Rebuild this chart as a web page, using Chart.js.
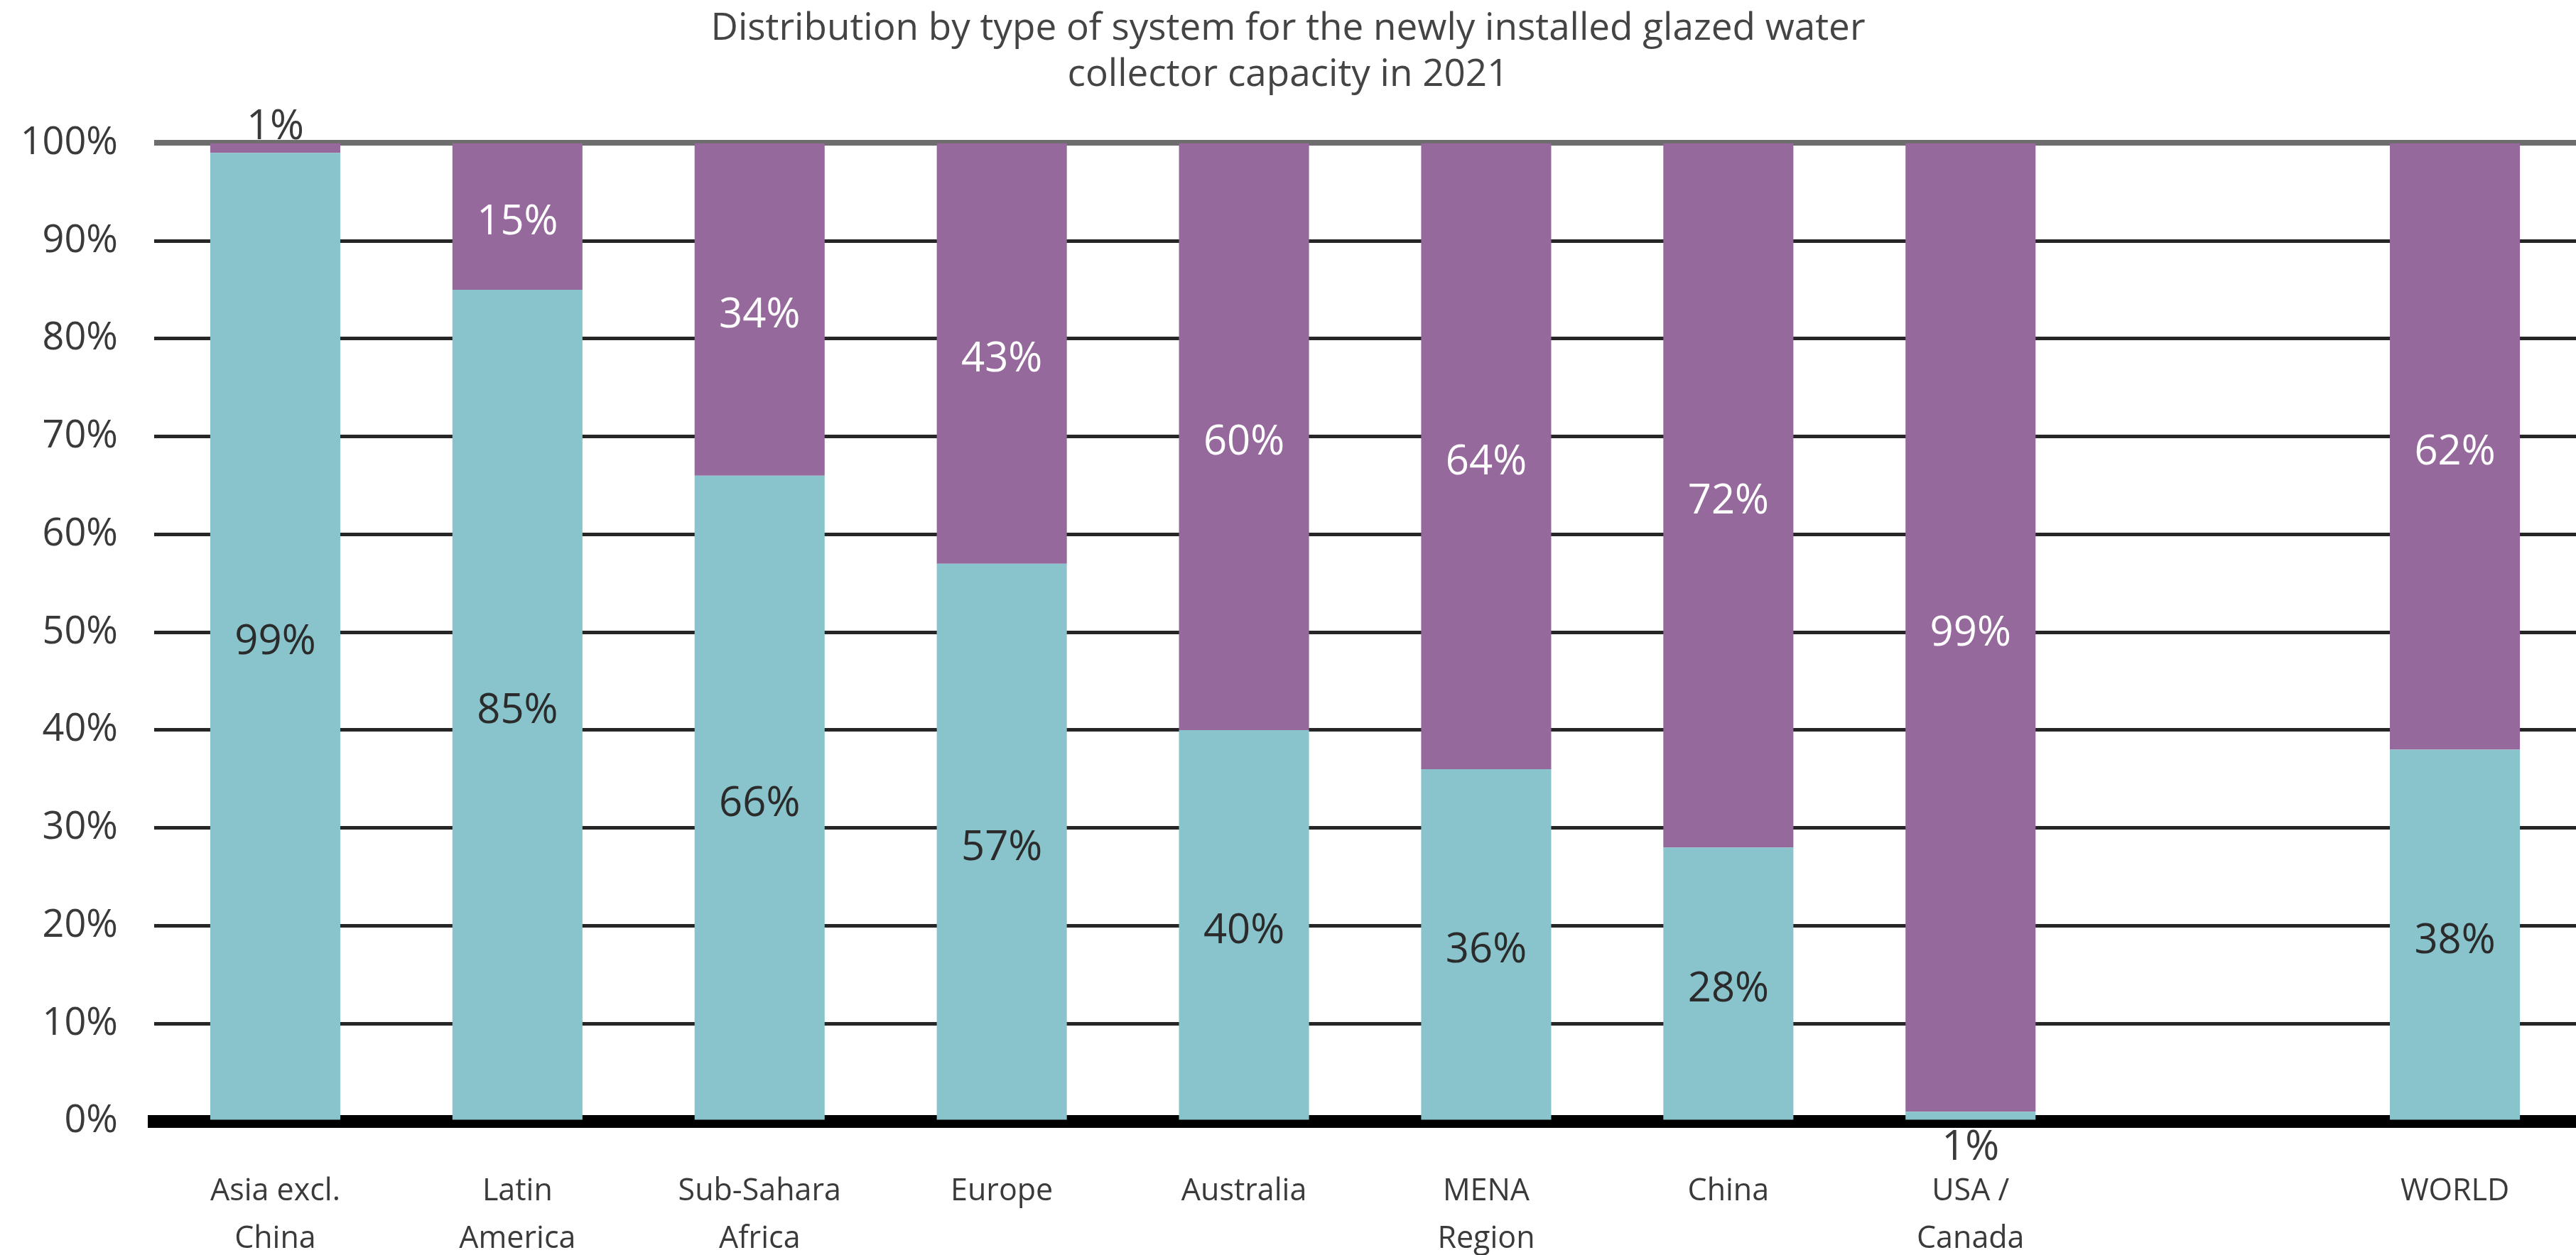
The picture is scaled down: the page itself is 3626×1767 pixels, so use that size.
<!DOCTYPE html>
<html>
<head>
<meta charset="utf-8">
<script src="https://cdn.jsdelivr.net/npm/chart.js@4.4.1/dist/chart.umd.min.js"></script>
<style>
  html, body { margin: 0; padding: 0; background: #fff; }
  canvas { display: block; }
</style>
</head>
<body>
<canvas id="chart" width="3626" height="1767"></canvas>
<script>
// regions (one empty slot between USA / Canada and WORLD, as in the original)
const regions = [
  ['Asia excl.', 'China'],
  ['Latin', 'America'],
  ['Sub-Sahara', 'Africa'],
  'Europe',
  'Australia',
  ['MENA', 'Region'],
  'China',
  ['USA /', 'Canada'],
  '',
  'WORLD'
];

// share of newly installed capacity, %
const thermosiphonShare = [99, 85, 66, 57, 40, 36, 28, 1, null, 38];
const pumpedShare = [1, 15, 34, 43, 60, 64, 72, 99, null, 62];

const yTicks = [0, 10, 20, 30, 40, 50, 60, 70, 80, 90, 100];

const titleLines = [
  'Distribution by type of system for the newly installed glazed water',
  'collector capacity in 2021'
];

const TEAL = '#89c3cc';
const PURPLE = '#96699c';
const FONT = "'Open Sans', sans-serif";

// value labels in the middle of each segment; tiny ones go outside the bar
const segmentLabels = {
  id: 'segmentLabels',
  afterDatasetsDraw(chart) {
    const ctx = chart.ctx;
    ctx.save();
    ctx.font = '58px ' + FONT;
    ctx.textAlign = 'center';
    ctx.textBaseline = 'middle';
    chart.data.datasets.forEach((ds, di) => {
      const meta = chart.getDatasetMeta(di);
      meta.data.forEach((bar, i) => {
        const v = ds.data[i];
        if (v == null) return;
        let y = (bar.y + bar.base) / 2 + 9;
        let color = di === 0 ? '#2b2b2b' : '#ffffff';
        if (v < 5) {
          color = '#3a3a3a';
          y = di === 0 ? bar.base + 40 : bar.y - 22;
        }
        ctx.fillStyle = color;
        ctx.fillText(v + '%', bar.x, y);
      });
    });
    ctx.restore();
  }
};

new Chart(document.getElementById('chart'), {
  type: 'bar',
  data: {
    labels: regions,
    datasets: [
      {
        label: 'Thermosiphon',
        data: thermosiphonShare,
        backgroundColor: TEAL,
        barPercentage: 0.537,
        categoryPercentage: 1
      },
      {
        label: 'Pumped',
        data: pumpedShare,
        backgroundColor: PURPLE,
        barPercentage: 0.537,
        categoryPercentage: 1
      }
    ]
  },
  options: {
    responsive: false,
    devicePixelRatio: 1,
    animation: false,
    layout: { padding: 0 },
    plugins: {
      legend: { display: false },
      tooltip: { enabled: false },
      title: {
        display: true,
        text: titleLines,
        color: '#444',
        font: { family: FONT, size: 53, weight: 'normal', lineHeight: 1.23 },
        padding: { top: 8, bottom: 63 }
      }
    },
    scales: {
      x: {
        stacked: true,
        z: 1,
        grid: { display: false },
        border: { display: true, color: '#000', width: 18 },
        ticks: {
          color: '#3a3a3a',
          padding: 57,
          maxRotation: 0,
          autoSkip: false,
          font: { family: FONT, size: 43, lineHeight: 1.56 }
        },
        afterFit(scale) { scale.height = 188; }
      },
      y: {
        stacked: true,
        min: 0,
        max: 100,
        afterBuildTicks(scale) { scale.ticks = yTicks.map(v => ({ value: v })); },
        border: { display: false },
        grid: {
          drawTicks: false,
          color: ctx => ctx.tick && ctx.tick.value === 100 ? '#6d6d6d' : '#262626',
          lineWidth: ctx => ctx.tick && ctx.tick.value === 100 ? 8 : 5
        },
        ticks: {
          color: '#3a3a3a',
          padding: 51,
          font: { family: FONT, size: 54 },
          callback: v => v + '%'
        },
        afterFit(scale) { scale.width = 217; }
      }
    }
  },
  plugins: [segmentLabels]
});
</script>
</body>
</html>
